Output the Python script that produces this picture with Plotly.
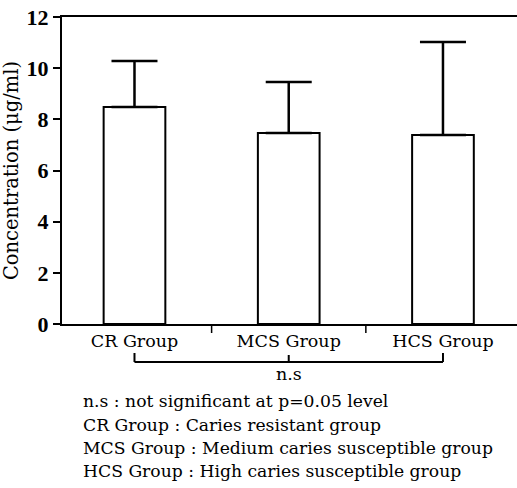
import plotly.graph_objects as go

categories = ["CR Group", "MCS Group", "HCS Group"]
means = [8.48, 7.47, 7.39]
sd_upper = [1.80, 1.99, 3.63]
y_ticks = [0, 2, 4, 6, 8, 10, 12]
footnotes = [
    "n.s : not significant at p=0.05 level",
    "CR Group : Caries resistant group",
    "MCS Group : Medium caries susceptible group",
    "HCS Group : High caries susceptible group",
]
sig_label = "n.s"

FONT = "DejaVu Serif"
FS = 17.2
H_PLOT = 307.0

def py(pix):
    return (324 - pix) / H_PLOT

fig = go.Figure()
fig.add_trace(go.Bar(
    x=list(range(len(categories))), y=means, width=0.40,
    marker=dict(color="white", line=dict(color="black", width=2)),
    error_y=dict(type="data", symmetric=False, array=sd_upper,
                 arrayminus=[0] * len(means), color="black",
                 thickness=2.5, width=23),
    showlegend=False,
))

shapes = []
for xv in [0.5, 1.5]:
    shapes.append(dict(type="line", xref="x", yref="paper", x0=xv, x1=xv,
                       y0=py(326), y1=py(333), line=dict(color="black", width=1.5)))
shapes.append(dict(type="line", xref="x", yref="paper", x0=0, x1=2,
                   y0=py(362), y1=py(362), line=dict(color="black", width=2)))
for xv, top in [(0, 353), (1, 355), (2, 353)]:
    shapes.append(dict(type="line", xref="x", yref="paper", x0=xv, x1=xv,
                       y0=py(top), y1=py(362), line=dict(color="black", width=2)))

annotations = [dict(text=sig_label, xref="x", yref="paper", x=1, y=py(374),
                    showarrow=False, font=dict(family=FONT, size=17.5, color="black"),
                    xanchor="center", yanchor="middle")]
for i, t in enumerate(footnotes):
    annotations.append(dict(text=t, xref="paper", yref="paper", x=(81 - 62) / 455,
                            y=py([401, 425, 448, 471][i]), showarrow=False,
                            font=dict(family=FONT, size=FS, color="black"),
                            xanchor="left", yanchor="middle"))

fig.update_layout(
    width=517, height=488,
    margin=dict(l=62, r=0, t=17, b=164),
    paper_bgcolor="white", plot_bgcolor="white",
    font=dict(family=FONT, color="black", size=FS),
    xaxis=dict(range=[-0.47, 2.48], tickvals=[0, 1, 2], ticktext=categories,
               ticks="", showline=True, linecolor="black", linewidth=2,
               mirror=True, showgrid=False, zeroline=False,
               tickfont=dict(family=FONT, size=17.5, color="black")),
    yaxis=dict(range=[0, 12], tickvals=y_ticks,
               ticktext=["<b>%d</b>" % v for v in y_ticks],
               ticks="outside", ticklen=7,
               tickwidth=2, tickcolor="black", showline=True, linecolor="black",
               linewidth=2, showgrid=False, zeroline=False,
               tickfont=dict(family="Liberation Serif", size=22, color="black"),
               title=dict(text="Concentration (μg/ml)", standoff=3,
                          font=dict(family=FONT, size=19.5, color="black"))),
    shapes=shapes, annotations=annotations,
)

fig.write_html("out.html")
